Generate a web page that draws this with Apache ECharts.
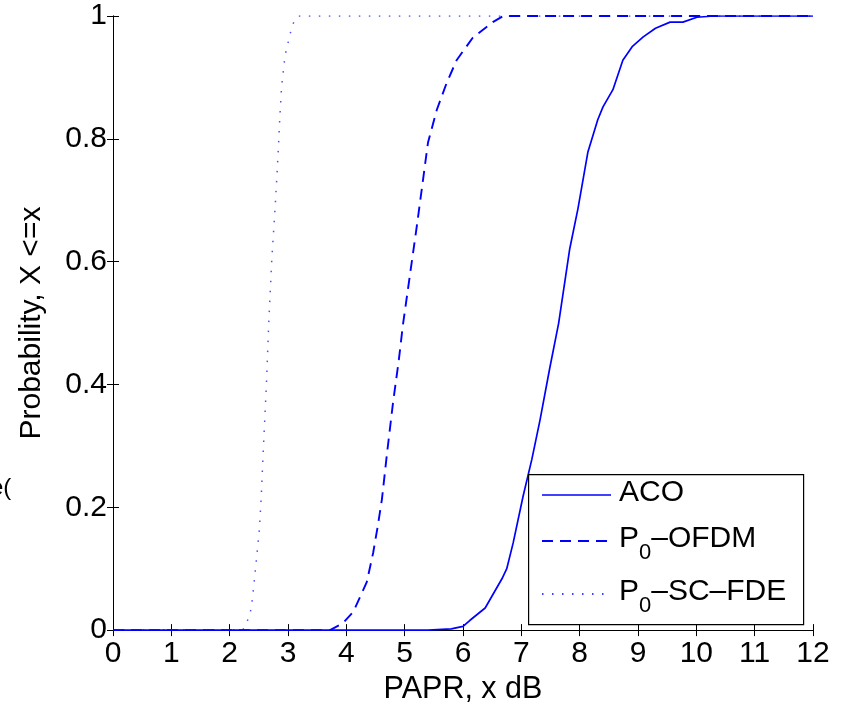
<!DOCTYPE html>
<html>
<head>
<meta charset="utf-8">
<script src="https://cdn.jsdelivr.net/npm/echarts@6/dist/echarts.min.js"></script>
<style>html,body{margin:0;padding:0;background:#fff}#c{width:853px;height:710px}</style>
</head>
<body>
<div id="c"></div>
<script>
// ---- data ----
const xTicks = [0,1,2,3,4,5,6,7,8,9,10,11,12];
const yTicks = [0,0.2,0.4,0.6,0.8,1];

const acoX = [0, 5.4, 5.8, 6.0, 6.12, 6.38, 6.67, 6.75, 6.86, 7.03, 7.18, 7.32, 7.49, 7.64, 7.83, 7.97, 8.14, 8.31, 8.40, 8.57, 8.74, 8.9, 9.09, 9.3, 9.55, 9.77, 10.01, 10.3, 12];
const acoY = [0, 0, 0.002, 0.006, 0.016, 0.036, 0.084, 0.10, 0.142, 0.218, 0.278, 0.342, 0.428, 0.50, 0.621, 0.686, 0.778, 0.831, 0.852, 0.880, 0.928, 0.950, 0.966, 0.980, 0.990, 0.990, 0.998, 1, 1];

const ofdmX = [0, 3.72, 3.94, 4.12, 4.35, 4.46, 4.54, 4.61, 4.70, 4.80, 4.90, 4.97, 5.09, 5.21, 5.31, 5.40, 5.55, 5.72, 5.89, 6.17, 6.51, 6.69, 12];
const ofdmY = [0, 0, 0.011, 0.03, 0.078, 0.126, 0.17, 0.213, 0.29, 0.37, 0.44, 0.497, 0.578, 0.659, 0.730, 0.794, 0.847, 0.891, 0.928, 0.965, 0.990, 1, 1];

const scX = [0, 2.22, 2.26, 2.32, 2.37, 2.40, 2.46, 2.51, 2.54, 2.58, 2.63, 2.67, 2.72, 2.79, 2.83, 2.86, 2.89, 2.95, 2.99, 3.03, 3.09, 3.17, 12];
const scY = [0, 0, 0.005, 0.019, 0.035, 0.06, 0.116, 0.165, 0.215, 0.30, 0.40, 0.50, 0.60, 0.705, 0.775, 0.836, 0.885, 0.936, 0.952, 0.969, 0.988, 1, 1];

const seriesNames = ['ACO', 'P0-OFDM', 'P0-SC-FDE'];

const pair = (xs, ys) => xs.map((x, i) => [x, ys[i]]);
const FONT = '"Liberation Sans", Arial, Helvetica, sans-serif';
const BLUE = '#0000ff';

const chart = echarts.init(document.getElementById('c'), null, {renderer: 'canvas'});

const axisCommon = {
  axisLine: {show: true, lineStyle: {color: '#000', width: 1}},
  axisTick: {show: true, inside: true, length: 6, lineStyle: {color: '#000', width: 1}},
  splitLine: {show: false}
};

chart.setOption({
  animation: false,
  backgroundColor: '#fff',
  grid: {left: 113, right: 40, top: 16, bottom: 75, containLabel: false},
  xAxis: [
    Object.assign({
      type: 'value', min: 0, max: 12, interval: 1, position: 'bottom',
      name: 'PAPR, x dB', nameLocation: 'middle', nameGap: 40,
      nameTextStyle: {fontFamily: FONT, fontSize: 30.5, color: '#000'},
      axisLabel: {fontFamily: FONT, fontSize: 30, color: '#000', margin: 9,
        formatter: v => xTicks.includes(v) ? String(v) : ''}
    }, axisCommon),
    Object.assign({
      type: 'value', min: 0, max: 12, interval: 1, position: 'top',
      axisLabel: {show: false}
    }, axisCommon)
  ],
  yAxis: [
    Object.assign({
      type: 'value', min: 0, max: 1, interval: 0.2, position: 'left',
      name: 'Probability, X <=x', nameLocation: 'middle', nameGap: 66,
      nameTextStyle: {fontFamily: FONT, fontSize: 30, color: '#000'},
      axisLabel: {fontFamily: FONT, fontSize: 30, color: '#000', margin: 6,
        formatter: v => { const t = yTicks.find(k => Math.abs(k - v) < 1e-9); return t === undefined ? '' : String(t); }}
    }, axisCommon),
    Object.assign({
      type: 'value', min: 0, max: 1, interval: 0.2, position: 'right',
      axisLabel: {show: false}
    }, axisCommon)
  ],
  series: [
    {name: seriesNames[0], type: 'line', data: pair(acoX, acoY), showSymbol: false, symbol: 'none',
      lineStyle: {color: BLUE, width: 1.7}, z: 3},
    {name: seriesNames[1], type: 'line', data: pair(ofdmX, ofdmY), showSymbol: false, symbol: 'none',
      lineStyle: {color: BLUE, width: 1.9, type: [11, 7]}, z: 3},
    {name: seriesNames[2], type: 'line', data: pair(scX, scY), showSymbol: false, symbol: 'none',
      lineStyle: {color: BLUE, width: 1.5, type: [1.5, 8.5], opacity: 0.7}, z: 3}
  ],
  graphic: [
    {type: 'rect', left: 528, top: 474, z: 10,
      shape: {width: 275, height: 150}, style: {fill: '#fff', stroke: '#000', lineWidth: 1.2}},
    {type: 'line', z: 11, shape: {x1: 542, y1: 495, x2: 611, y2: 495}, style: {stroke: BLUE, lineWidth: 1.7}},
    {type: 'line', z: 11, shape: {x1: 542, y1: 541, x2: 611, y2: 541}, style: {stroke: BLUE, lineWidth: 1.9, lineDash: [11, 7]}},
    {type: 'line', z: 11, shape: {x1: 542, y1: 594, x2: 611, y2: 594}, style: {stroke: BLUE, lineWidth: 1.5, lineDash: [1.5, 8.5]}},
    {type: 'text', z: 11, left: 619, top: 478,
      style: {text: 'ACO', font: '30px ' + FONT, fill: '#000'}},
    {type: 'text', z: 11, left: 619, top: 524,
      style: {text: '{m|P}{s|0}{m|\u2013OFDM}', fill: '#000',
        rich: {m: {font: '30px ' + FONT, fill: '#000', verticalAlign: 'top'},
               s: {font: '22px ' + FONT, fill: '#000', padding: [18, 0, 0, 0], verticalAlign: 'top'}}}},
    {type: 'text', z: 11, left: 619, top: 577,
      style: {text: '{m|P}{s|0}{m|\u2013SC\u2013FDE}', fill: '#000',
        rich: {m: {font: '30px ' + FONT, fill: '#000', verticalAlign: 'top'},
               s: {font: '22px ' + FONT, fill: '#000', padding: [18, 0, 0, 0], verticalAlign: 'top'}}}},
    {type: 'text', z: 11, left: -10, top: 476,
      style: {text: 'e(', font: '24px ' + FONT, fill: '#000'}}
  ]
});
</script>
</body>
</html>
